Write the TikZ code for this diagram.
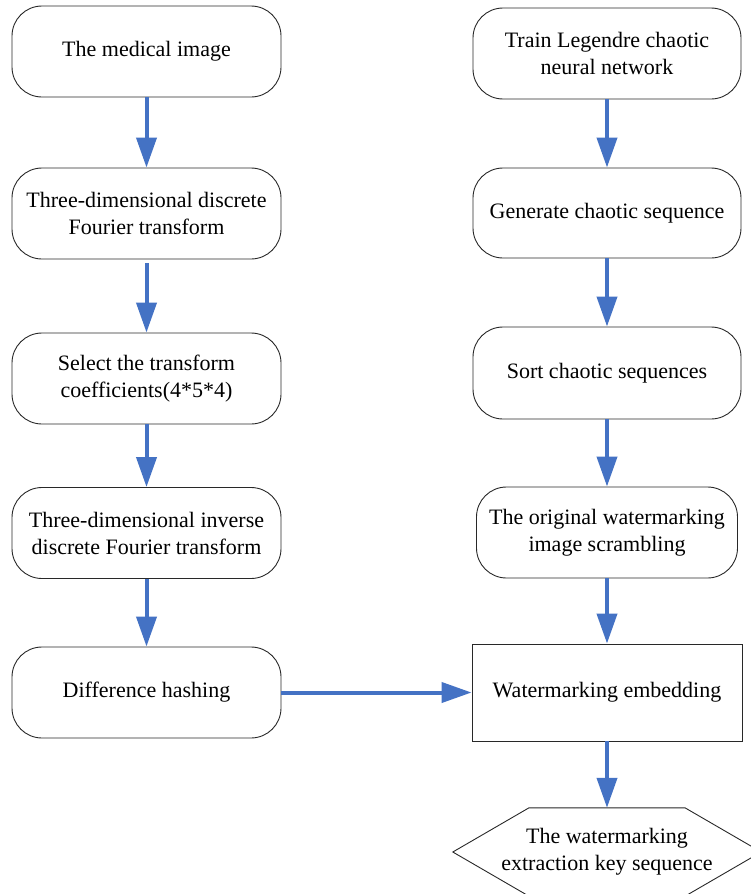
\documentclass[tikz,border=0pt]{standalone}
\usepackage{fontspec}
\setmainfont{Liberation Serif}
\usetikzlibrary{arrows.meta}
\definecolor{arrowblue}{RGB}{68,114,196}
\definecolor{edgegray}{RGB}{40,40,40}
\begin{document}
\begin{tikzpicture}[x=1pt,y=-1pt,
  txt/.style={align=center, font=\fontsize{22}{27}\selectfont, inner sep=0pt},
  box/.style={txt, draw=edgegray, line width=0.9pt, rounded corners=30pt, minimum width=269pt, minimum height=91pt},
  rect/.style={txt, draw=edgegray, line width=0.9pt, minimum width=270pt, minimum height=97pt},
  flow/.style={draw=arrowblue, line width=4pt, -{Triangle[length=30pt,width=20pt]}}
]
\useasboundingbox (0,0) rectangle (751,894);
\clip (0,0) rectangle (751,894);
% left column
\node[box] (l1) at (146.5,51.5) {The medical image};
\node[box] (l2) at (146.5,213.5) {Three-dimensional discrete\\Fourier transform};
\node[box] (l3) at (146.5,378.5) {Select the transform\\coefficients(4*5*4)};
\node[box] (l4) at (146.5,533) {Three-dimensional inverse\\discrete Fourier transform};
\node[box] (l5) at (146.5,692.5) {Difference hashing};
% right column
\node[box, minimum width=268pt] (r1) at (607,53.5) {Train Legendre chaotic\\neural network};
\node[box, minimum width=268pt, minimum height=90pt] (r2) at (607,213) {Generate chaotic sequence};
\node[box, minimum width=268pt, minimum height=92pt] (r3) at (607,373) {Sort chaotic sequences};
\node[box, minimum width=261pt] (r4) at (607,532.5) {The original watermarking\\image scrambling};
\node[rect] (emb) at (607,692.5) {Watermarking embedding};
\node[txt, minimum width=308pt, minimum height=88pt] (key) at (607,852) {The watermarking\\extraction key sequence};
\draw[edgegray, line width=0.9pt] ([xshift=-78pt]key.north) -- ([xshift=78pt]key.north) -- (key.east)
  -- ([xshift=78pt]key.south) -- ([xshift=-78pt]key.south) -- (key.west) -- cycle;
% arrows
\draw[flow] (l1.south) -- (l2.north);
\draw[flow] ([yshift=-4pt]l2.south) -- (l3.north);
\draw[flow] (l3.south) -- (l4.north);
\draw[flow] (l4.south) -- (l5.north);
\draw[flow] (r1.south) -- (r2.north);
\draw[flow] (r2.south) -- (r3.north);
\draw[flow] (r3.south) -- (r4.north);
\draw[flow] (r4.south) -- (emb.north);
\draw[flow] (emb.south) -- (key.north);
\draw[flow] (l5.east) -- (emb.west);
\end{tikzpicture}
\end{document}
